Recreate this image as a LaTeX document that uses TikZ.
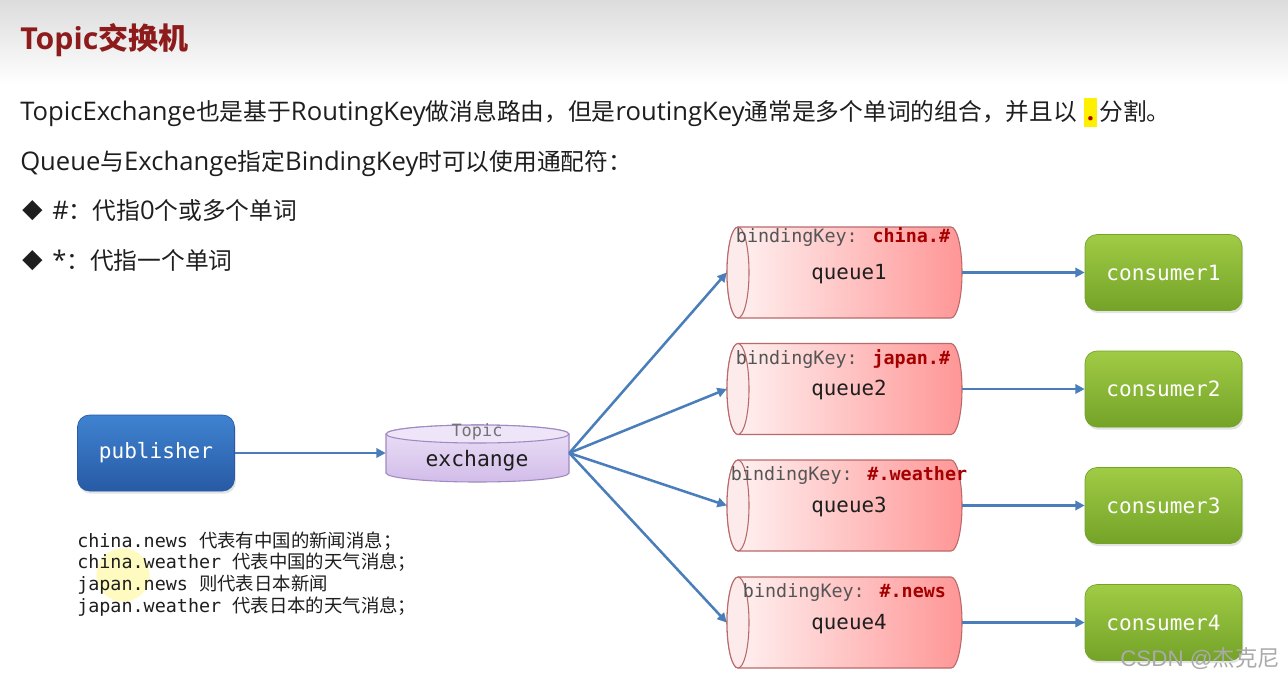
\documentclass[tikz,border=0pt]{standalone}
\usepackage{fontspec}
\setmainfont{Noto Sans CJK SC}
\newfontfamily\lat{Open Sans}[Scale=1.08]
\newfontfamily\mono{DejaVu Sans Mono}
\newfontfamily\arialf{Liberation Sans}
\usetikzlibrary{shadows,arrows.meta}
\newdimen\px \px=0.75pt
\definecolor{titlered}{RGB}{142,27,27}
\definecolor{txt}{RGB}{30,30,30}
\definecolor{arrblue}{RGB}{74,126,187}
\definecolor{pubtop}{RGB}{63,131,208}
\definecolor{pubbot}{RGB}{40,90,165}
\definecolor{contop}{RGB}{160,203,69}
\definecolor{conbot}{RGB}{116,163,40}
\definecolor{qleft}{RGB}{255,244,244}
\definecolor{qright}{RGB}{255,150,150}
\definecolor{qface}{RGB}{253,235,235}
\definecolor{qborder}{RGB}{185,105,105}
\definecolor{extop}{RGB}{236,226,247}
\definecolor{exbot}{RGB}{210,188,233}
\definecolor{exface}{RGB}{238,229,248}
\definecolor{exborder}{RGB}{160,138,194}
\definecolor{bkgray}{RGB}{85,85,85}
\definecolor{bkred}{RGB}{165,0,0}
\definecolor{hlyellow}{RGB}{255,240,0}
\definecolor{dotred}{RGB}{170,0,0}
\definecolor{wmgray}{RGB}{170,170,170}
\definecolor{bandtop}{RGB}{220,220,220}
\newcommand\queuecyl[1]{%
  \path[draw=qborder, line width=0.8pt, left color=qleft, right color=qright]
    (738,#1-45.5) -- (951,#1-45.5)
    arc[start angle=90, end angle=-90, x radius=8.25pt, y radius=34.125pt]
    -- (738,#1+45.5)
    arc[start angle=270, end angle=90, x radius=8.25pt, y radius=34.125pt] -- cycle;
  \draw[qborder, line width=0.8pt, fill=qface] (738,#1) ellipse [x radius=8.25pt, y radius=34.125pt];
}
\begin{document}
\begin{tikzpicture}[x=0.75pt, y=-0.75pt,
  arr/.style={draw=arrblue, line width=1.9pt, -{Triangle[length=7pt, width=7pt]}},
  box/.style={rounded corners=9pt, minimum width=157*\px, minimum height=76*\px, inner sep=0pt,
    text=white, font=\mono\fontsize{15.8pt}{18pt}\selectfont,
    drop shadow={shadow xshift=1pt, shadow yshift=-2pt, opacity=0.22}},
  pubbox/.style={box, top color=pubtop, bottom color=pubbot, draw=pubbot, line width=0.5pt},
  conbox/.style={box, top color=contop, bottom color=conbot, draw=conbot, line width=0.5pt},
  holder/.style={inner sep=0pt, minimum width=#1},
  toptext/.style={anchor=base west, inner sep=0pt, text=txt, font=\fontsize{17.8pt}{20pt}\selectfont},
  bktext/.style={inner sep=0pt, font=\mono\fontsize{13.8pt}{16pt}\selectfont},
  qtext/.style={inner sep=0pt, text=txt, font=\mono\fontsize{15.6pt}{18pt}\selectfont},
  note/.style={anchor=base west, inner sep=0pt, text=txt, font=\fontsize{13.8pt}{16pt}\selectfont}
]
\useasboundingbox (0,0) rectangle (1288,679);
\fill[white] (0,0) rectangle (1288,679);
\shade[top color=bandtop, bottom color=white] (0,0) rectangle (1288,85);

% title and text
\node[anchor=base west, inner sep=0pt, text=titlered, font=\bfseries\fontsize{22.5pt}{26pt}\selectfont] (title) at (20,49) {{\lat\fontsize{21pt}{26pt}\selectfont Topic}交换机};
\node[toptext] (l1) at (20,120) {{\lat TopicExchange}也是基于{\lat RoutingKey}做消息路由，但是{\lat routingKey}通常是多个单词的组合，并且以\hspace{0.3em}{\setlength\fboxsep{0pt}\colorbox{hlyellow}{\makebox[9.75pt]{\rule[-5.25pt]{0pt}{21.75pt}\textcolor{dotred}{\lat\bfseries .}}}}\hspace{0.1em}分割。};
\node[toptext] (l2) at (20,170) {{\lat Queue}与{\lat Exchange}指定{\lat BindingKey}时可以使用通配符：};
\node[toptext, font=\fontsize{15.5pt}{18pt}\selectfont] (b1) at (22,218) {◆};
\node[toptext] (l3) at (52,219) {{\lat\#}：代指{\lat 0}个或多个单词};
\node[toptext, font=\fontsize{15.5pt}{18pt}\selectfont] (b2) at (22,268) {◆};
\node[toptext] (l4) at (52,269) {{\lat *}：代指一个单词};

% notes
\fill[yellow!70, opacity=0.35] (123,575) circle [radius=20pt];
\node[note] (n1) at (77,547) {{\mono china.news }代表有中国的新闻消息；};
\node[note] (n2) at (77,568) {{\mono china.weather }代表中国的天气消息；};
\node[note] (n3) at (77,590) {{\mono japan.news }则代表日本新闻};
\node[note] (n4) at (77,612) {{\mono japan.weather }代表日本的天气消息；};

% publisher
\node[pubbox] (pub) at (156,453) {publisher};

% exchange cylinder
\path[draw=exborder, line width=0.8pt, top color=extop, bottom color=exbot]
  (386,434) -- (386,473)
  arc[start angle=180, end angle=360, x radius=68.625pt, y radius=6.75pt]
  -- (569,434)
  arc[start angle=0, end angle=180, x radius=68.625pt, y radius=6.75pt] -- cycle;
\draw[exborder, line width=0.8pt, fill=exface] (477.5,434) ellipse [x radius=68.625pt, y radius=6.75pt];
\node[holder=183*\px, minimum height=57*\px] (ex) at (477.5,453) {};
\node[inner sep=0pt, text=black!55, font=\mono\fontsize{12.7pt}{14pt}\selectfont] (extopic) at (477,432) {Topic};
\node[inner sep=0pt, text=txt, font=\mono\fontsize{16pt}{18pt}\selectfont] (exname) at (477,461) {exchange};

% queues
\queuecyl{272.5}
\queuecyl{389}
\queuecyl{505.5}
\queuecyl{622.5}
\node[holder=235*\px, minimum height=91*\px] (q1) at (844.5,272.5) {};
\node[holder=235*\px, minimum height=91*\px] (q2) at (844.5,389) {};
\node[holder=235*\px, minimum height=91*\px] (q3) at (844.5,505.5) {};
\node[holder=235*\px, minimum height=91*\px] (q4) at (844.5,622.5) {};

\node[bktext] (k1) at (843,237) {\textcolor{bkgray}{bindingKey: }\textcolor{bkred}{\bfseries china.\#}};
\node[bktext] (k2) at (843,359) {\textcolor{bkgray}{bindingKey: }\textcolor{bkred}{\bfseries japan.\#}};
\node[bktext] (k3) at (849,475) {\textcolor{bkgray}{bindingKey: }\textcolor{bkred}{\bfseries \#.weather}};
\node[bktext] (k4) at (844.5,592) {\textcolor{bkgray}{bindingKey: }\textcolor{bkred}{\bfseries \#.news}};
\node[qtext] (t1) at (849,274) {queue1};
\node[qtext] (t2) at (849,390) {queue2};
\node[qtext] (t3) at (849,507) {queue3};
\node[qtext] (t4) at (849,624) {queue4};

% consumers
\node[conbox] (c1) at (1163.5,272.5) {consumer1};
\node[conbox] (c2) at (1163.5,389) {consumer2};
\node[conbox] (c3) at (1163.5,505.5) {consumer3};
\node[conbox] (c4) at (1163.5,622.5) {consumer4};

% connectors
\draw[arr] (pub.east) -- (ex.west);
\foreach \q in {q1,q2,q3,q4} \draw[arr] (ex.east) -- (\q.west);
\draw[arr] (q1.east) -- (c1.west);
\draw[arr] (q2.east) -- (c2.west);
\draw[arr] (q3.east) -- (c3.west);
\draw[arr] (q4.east) -- (c4.west);

% watermark
\node[anchor=base west, inner sep=0pt, text=wmgray, font=\fontsize{16.8pt}{19pt}\selectfont] (wm) at (1120,666) {{\arialf CSDN @}杰克尼};
\end{tikzpicture}
\end{document}
